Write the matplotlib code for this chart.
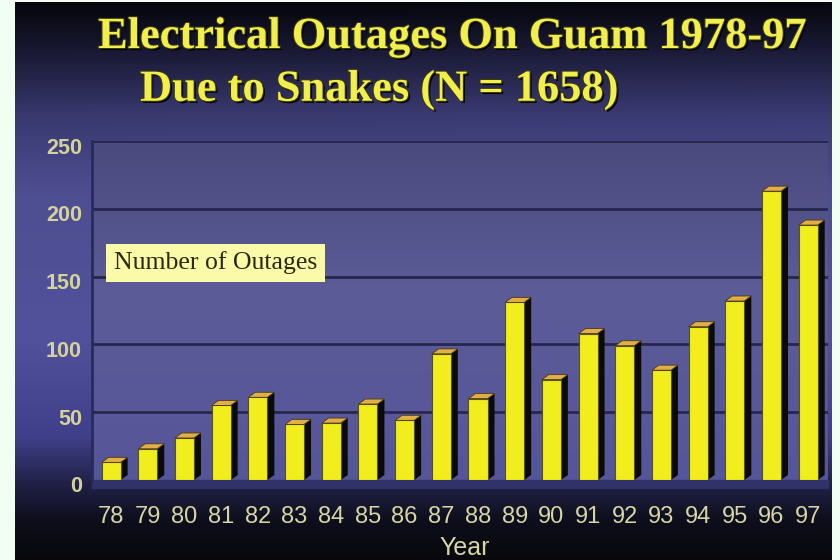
import numpy as np
import matplotlib
matplotlib.use("Agg")
import matplotlib.pyplot as plt
import matplotlib.patheffects as pe
from matplotlib import transforms
from matplotlib.patches import Polygon, Rectangle
from matplotlib.colors import to_rgb

# ---- data -------------------------------------------------------------
years = ["78", "79", "80", "81", "82", "83", "84", "85", "86", "87",
         "88", "89", "90", "91", "92", "93", "94", "95", "96", "97"]
outages = [13, 23, 31, 55, 61, 41, 42, 56, 44, 93,
           60, 131, 74, 108, 99, 81, 113, 132, 213, 188]
y_ticks = [0, 50, 100, 150, 200, 250]
title_line1 = "Electrical Outages On Guam 1978-97"
title_line2 = "Due to Snakes (N = 1658)"
series_name = "Number of Outages"
x_title = "Year"

W, H = 840, 560
fig = plt.figure(figsize=(W / 100, H / 100), dpi=100)
fig.patch.set_facecolor("#f0fff2")

SANS = ["Liberation Sans", "DejaVu Sans"]
SERIF = ["Liberation Serif", "DejaVu Serif"]


def gradient(stops, n=400):
    pos = np.array([s[0] for s in stops])
    cols = np.array([to_rgb(s[1]) for s in stops])
    t = np.linspace(0, 1, n)
    return np.stack([np.interp(t, pos, cols[:, k]) for k in range(3)], axis=1)


# ---- slide panel background -----------------------------------------
panel = fig.add_axes([15 / W, 0, (832 - 15) / W, 558 / H])
panel.set_axis_off()
col = gradient([(0.0, "#07070e"), (0.07, "#171730"), (0.2, "#3b3b74"),
                (0.35, "#4e4e92"), (0.6, "#52529c"), (0.78, "#40408a"),
                (0.86, "#22224a"), (0.93, "#0e0e1c"), (1.0, "#08080c")])
img = np.repeat(col[:, None, :], 50, axis=1)
# slightly darker towards the left-hand side at the top
shade = np.linspace(0.85, 1.0, 50)[None, :, None]
topw = np.clip(1 - np.linspace(0, 1, 400) / 0.3, 0, 1)[:, None, None]
img = img * (1 - topw * (1 - shade))
panel.imshow(img, aspect="auto", extent=[0, 1, 0, 1], interpolation="bilinear")
panel.set_xlim(0, 1)
panel.set_ylim(0, 1)

# ---- chart axes -------------------------------------------------------
y0_px, y250_px = 480, 141
ax = fig.add_axes([92 / W, (H - y0_px) / H, (828 - 92) / W, (y0_px - y250_px) / H])
ax.set_xlim(-0.52, 19.54)
ax.set_ylim(0, 250)
ax.patch.set_alpha(0)

# plot-area wall
wall = gradient([(0.0, "#4a4a7e"), (0.45, "#5c5c98"), (1.0, "#55559a")])
ax.imshow(np.repeat(wall[:, None, :], 20, axis=1), aspect="auto",
          extent=[-0.52, 19.54, 0, 250], zorder=0, interpolation="bilinear")

for t in y_ticks[1:]:
    ax.axhline(t, color="#26264e", lw=2.0, zorder=1)

for s in ["top", "right", "bottom"]:
    ax.spines[s].set_visible(False)
ax.spines["left"].set_color("#2a2a58")
ax.spines["left"].set_linewidth(2)

# floor strip under the columns
ax.add_patch(Rectangle((-0.52, -6), 20.06, 6, color="#32326a",
                       clip_on=False, zorder=1))

# ---- 3-D style columns --------------------------------------------------
bw = 0.52     # front face width
dx = 0.19     # depth offset (x)
dy = 3.7      # depth offset (y, data units)
for i, v in enumerate(outages):
    xl, xr = i - bw / 2, i + bw / 2
    side = Polygon([(xr, 0), (xr + dx, dy), (xr + dx, v + dy), (xr, v)],
                   closed=True, facecolor="#0a0a08", edgecolor="none", zorder=3)
    top = Polygon([(xl, v), (xr, v), (xr + dx, v + dy), (xl + dx, v + dy)],
                  closed=True, facecolor="#e2ae48", edgecolor="#4a3a10",
                  lw=0.6, zorder=4)
    front = Rectangle((xl, 0), bw, v, facecolor="#f2ee1e",
                      edgecolor="#5a5410", lw=0.8, zorder=4)
    for p in (side, front, top):
        ax.add_patch(p)

# ---- tick labels ----------------------------------------------------------
ax.set_xticks(range(len(years)))
ax.set_xticklabels(years, fontsize=17, color="#d6d6a4", family=SANS)
ax.tick_params(axis="x", length=0, pad=19)
ax.set_yticks([])

ylab_off = transforms.ScaledTranslation(-10 / 100, -7 / 100, fig.dpi_scale_trans)
ytrans = transforms.blended_transform_factory(ax.transAxes, ax.transData) + ylab_off
for t in y_ticks:
    ax.text(0, t, str(t), transform=ytrans, ha="right", va="center",
            fontsize=15.5, fontweight="bold", color="#d2d29a", family=SANS)

fig.text(465 / W, 1 - 548 / H, x_title, ha="center", va="center",
         fontsize=18, color="#d6d6a4", family=SANS)

# ---- series label box -------------------------------------------------------
fig.text(114 / W, 1 - 263 / H, series_name, ha="left", va="center",
         fontsize=18.5, color="#2a2a0c", family=SERIF,
         bbox=dict(boxstyle="square,pad=0.3", facecolor="#fafaa8",
                   edgecolor="none"))

# ---- title ----------------------------------------------------------------
title_fx = [pe.withSimplePatchShadow(offset=(1.5, -1.5), shadow_rgbFace="#000000",
                                     alpha=0.9),
            pe.withStroke(linewidth=1.5, foreground="#3a3a10")]
fig.text(98 / W, 1 - 37 / H, title_line1, ha="left", va="center",
         fontsize=32, fontweight="bold", color="#f2ee4c", family=SERIF,
         path_effects=title_fx)
fig.text(140 / W, 1 - 90 / H, title_line2, ha="left", va="center",
         fontsize=32, fontweight="bold", color="#f2ee4c", family=SERIF,
         path_effects=title_fx)

fig.savefig("out.png", dpi=100, facecolor=fig.get_facecolor())
